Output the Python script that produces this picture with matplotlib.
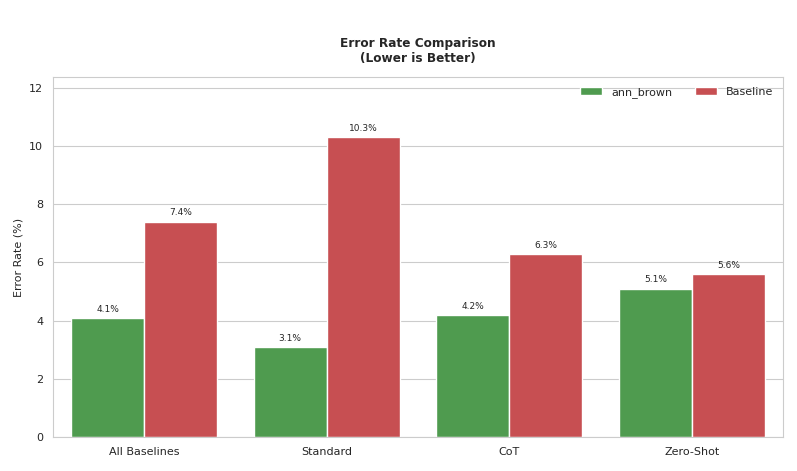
import numpy as np
import matplotlib
matplotlib.use('Agg')
import matplotlib.pyplot as plt
import seaborn as sns

categories = ['All Baselines', 'Standard', 'CoT', 'Zero-Shot']
ann_brown = [4.1, 3.1, 4.2, 5.1]
baseline = [7.4, 10.3, 6.3, 5.6]

sns.set_style('whitegrid')

fig, ax = plt.subplots(figsize=(7.97, 4.71), dpi=100)
x = np.arange(len(categories))
width = 0.4

bars1 = ax.bar(x - width / 2, ann_brown, width, label='ann_brown', color='#4f9b4f',
               edgecolor='white', linewidth=1)
bars2 = ax.bar(x + width / 2, baseline, width, label='Baseline', color='#c74f52',
               edgecolor='white', linewidth=1)

for rects in (bars1, bars2):
    for rect in rects:
        h = rect.get_height()
        ax.annotate('{:.1f}%'.format(h),
                    xy=(rect.get_x() + rect.get_width() / 2, h),
                    xytext=(0, 3), textcoords='offset points',
                    ha='center', va='bottom', fontsize=6.5)

ax.set_xticks(x)
ax.set_xticklabels(categories, fontsize=8)
ax.tick_params(axis='y', labelsize=8)
ax.set_ylabel('Error Rate (%)', fontsize=8)
ax.set_title('Error Rate Comparison\n(Lower is Better)', fontsize=8.7, fontweight='bold', pad=11)
ax.set_ylim(0, max(baseline) * 1.2)
ax.set_xlim(-0.5, 3.5)
ax.xaxis.grid(False)
ax.legend(ncol=2, frameon=False, fontsize=8, loc='upper right')

plt.subplots_adjust(left=0.0665, right=0.9825, top=0.836, bottom=0.072)
plt.savefig('out.png', dpi=100)
